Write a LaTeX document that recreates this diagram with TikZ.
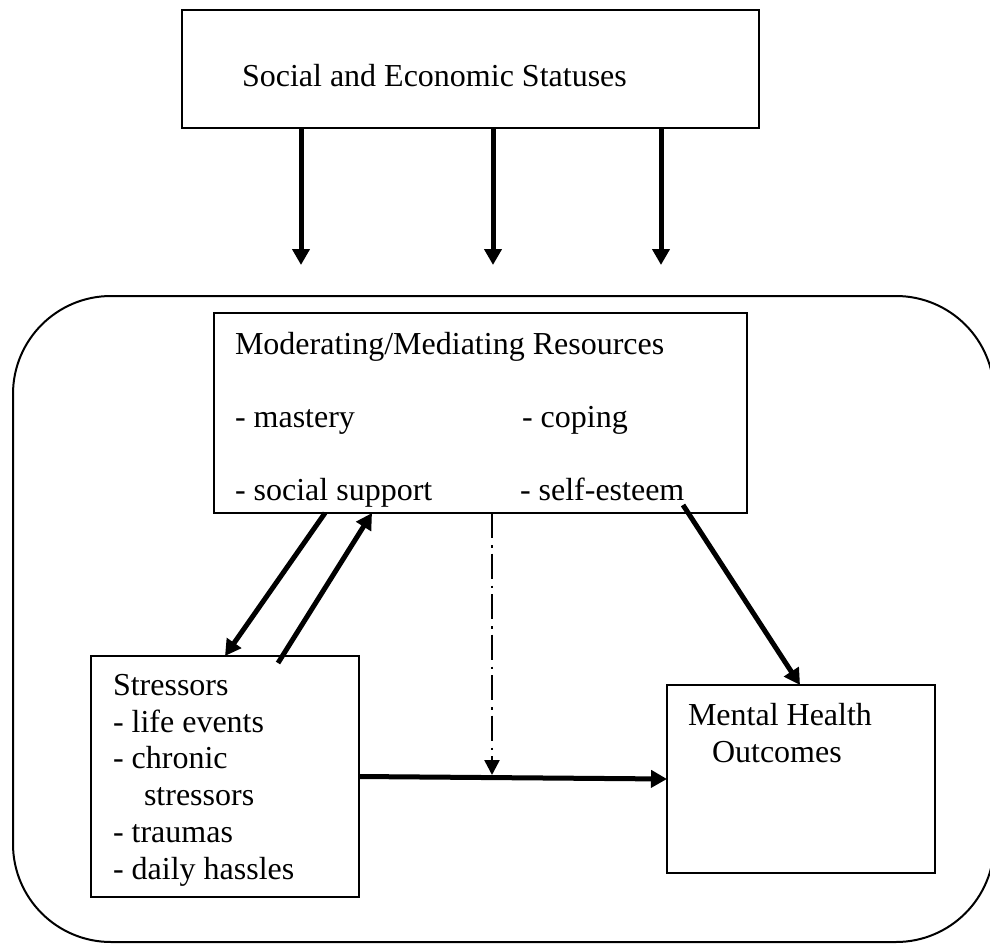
\documentclass[tikz,border=0pt]{standalone}
\usepackage{fontspec}
\setmainfont{Liberation Serif}
\usetikzlibrary{arrows.meta,calc}
\begin{document}
\begin{tikzpicture}[x=1pt,y=-1pt,
  box/.style={draw, line width=2pt, inner sep=0pt, outer sep=0pt, rectangle},
  txt/.style={inner sep=0pt, outer sep=0pt, anchor=base west, font=\fontsize{32}{38}\selectfont},
  thickarrow/.style={line width=5pt, -{Triangle[length=16pt,width=17pt]}},
  dotarrow/.style={line width=2.5pt, -{Triangle[length=15pt,width=15pt]}, dash pattern=on 25pt off 7pt on 2.5pt off 6pt}]
\clip (0,0) rectangle (990,944);
% boxes
\node[box, minimum width=577pt, minimum height=118pt] (ses) at (470.5,69) {};
\node[box, rounded corners=98pt, minimum width=981pt, minimum height=646pt] (frame) at (503.5,619) {};
\node[box, minimum width=533pt, minimum height=200pt] (mod) at (480.5,413) {};
\node[box, minimum width=268pt, minimum height=241pt] (str) at (225,776.5) {};
\node[box, minimum width=268pt, minimum height=188pt] (mho) at (801,779) {};
% texts
\node[txt] (tses) at (242,87) {Social and Economic Statuses};
\node[txt] (tmod) at (235,354) {Moderating/Mediating Resources};
\node[txt] (tmas) at (235,427) {- mastery};
\node[txt] (tcop) at (522,427) {- coping};
\node[txt] (tsoc) at (235,500) {- social support};
\node[txt] (tsel) at (520,500) {- self-esteem};
\node[txt] (ts0) at (113,695) {Stressors};
\node[txt] (ts1) at (113,732) {- life events};
\node[txt] (ts2) at (113,768) {- chronic};
\node[txt] (ts3) at (144,805) {stressors};
\node[txt] (ts4) at (113,842) {- traumas};
\node[txt] (ts5) at (113,879) {- daily hassles};
\node[txt] (tm1) at (688,725) {Mental Health};
\node[txt] (tm2) at (712,762) {Outcomes};
% arrows from top box
\coordinate (a1) at (301,265);
\coordinate (a2) at (493,265);
\coordinate (a3) at (661,265);
\draw[thickarrow] (ses.south -| a1) -- (a1);
\draw[thickarrow] (ses.south -| a2) -- (a2);
\draw[thickarrow] (ses.south -| a3) -- (a3);
% inner arrows
\draw[thickarrow] ($(mod.south west)+(111,0)$) -- ($(str.north west)+(134,0)$);
\draw[thickarrow] ($(str.north west)+(187,7)$) -- ($(mod.south west)+(158,0)$);
\draw[thickarrow] ($(mod.south west)+(469,-8)$) -- ($(mho.north west)+(133,0)$);
\draw[thickarrow] (str.east) -- (mho.west);
\coordinate (j) at ($(mod.south west)+(278,0)$);
\coordinate (jt) at ($(j)+(0,262)$);
\draw[dotarrow] (j) -- (jt);
\end{tikzpicture}
\end{document}
